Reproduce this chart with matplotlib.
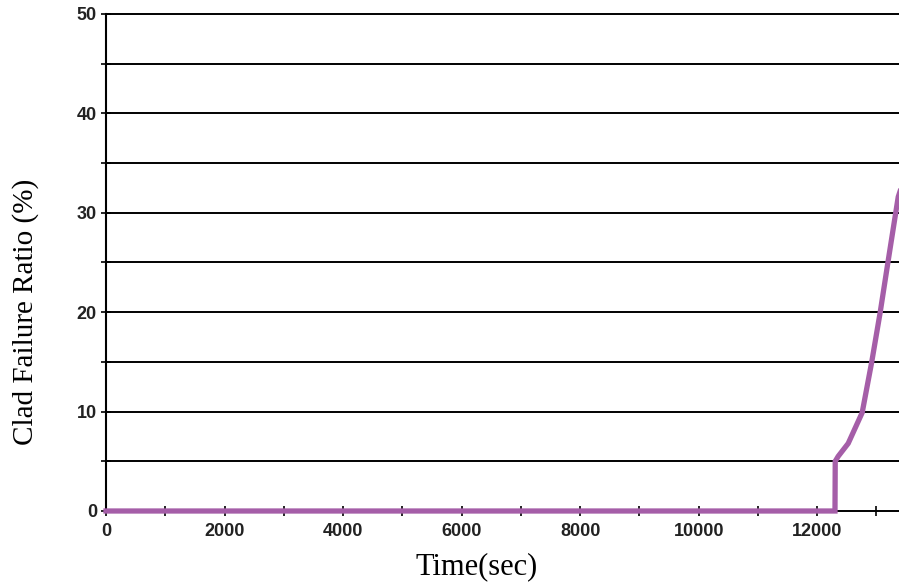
import matplotlib.pyplot as plt
from matplotlib.ticker import MultipleLocator

# Clad failure ratio (%) vs time (sec)
time_sec = [0, 12300, 12304, 12354, 12523, 12759, 12920, 13063, 13198, 13367, 13400]
clad_failure = [0, 0, 5.0, 5.5, 6.8, 9.9, 15.0, 20.0, 25.2, 31.6, 32.2]

x_major = 2000
x_minor = 1000
y_major = 10
y_minor = 5

fig = plt.figure(figsize=(8.99, 5.83), dpi=100)
ax = fig.add_axes([0.1179, 0.1235, 0.8821, 0.8525])

# horizontal grid every 5 %
for yv in range(0, 51, y_minor):
    ax.axhline(yv, color="black", linewidth=1.4, zorder=1, clip_on=False)

ax.plot(time_sec, clad_failure, color="#A55EA8", linewidth=3.8, zorder=3,
        solid_joinstyle="miter", clip_on=False)

ax.set_xlim(0, 13380)
ax.set_ylim(0, 50)
ax.xaxis.set_major_locator(MultipleLocator(x_major))
ax.xaxis.set_minor_locator(MultipleLocator(x_minor))
ax.yaxis.set_major_locator(MultipleLocator(y_major))
ax.yaxis.set_minor_locator(MultipleLocator(y_minor))

ax.tick_params(axis="both", which="both", direction="inout", color="black",
               width=1.2, zorder=4)
ax.tick_params(axis="x", which="both", length=7, pad=5)
ax.tick_params(axis="y", which="both", length=7, pad=3)
ax.tick_params(labelsize=13)
for lab in ax.get_xticklabels() + ax.get_yticklabels():
    lab.set_fontfamily("Liberation Sans")
    lab.set_fontweight("bold")
    lab.set_color("#222222")

for side in ["top", "right"]:
    ax.spines[side].set_visible(False)
ax.spines["left"].set_linewidth(1.5)
ax.spines["bottom"].set_visible(False)

# axis titles, placed where the reference has them
ax.text(0.468, -0.113, "Time(sec)", transform=ax.transAxes, ha="center",
        va="center", fontfamily="Liberation Serif", fontsize=22)
ax.text(-0.102, 0.40, "Clad Failure Ratio (%)", transform=ax.transAxes,
        ha="center", va="center", rotation=90, fontfamily="Liberation Serif",
        fontsize=21)

fig.savefig("out.png", dpi=100)
